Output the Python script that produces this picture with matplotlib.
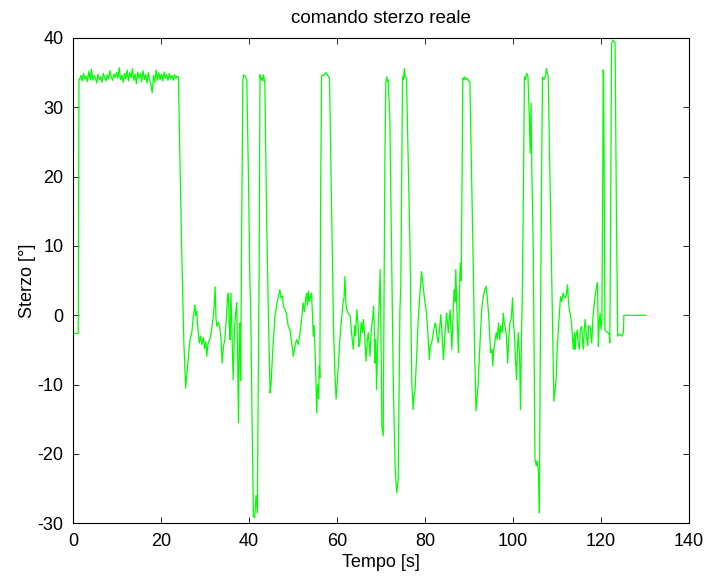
import numpy as np
import matplotlib
matplotlib.use("Agg")
import matplotlib.pyplot as plt

plt.rcParams['font.family'] = ['Liberation Sans', 'DejaVu Sans']
plt.rcParams['axes.unicode_minus'] = False

# --- data ---
# start + plateau
t_plateau = [0.0, 1.2, 1.35, 1.5, 1.8, 2.1, 2.4, 2.7, 3.0, 3.3, 3.6, 3.9, 4.2, 4.5, 4.8,
             5.1, 5.4, 5.7, 6.0, 6.3, 6.6, 6.9, 7.2, 7.5, 7.8, 8.1, 8.4, 8.7, 9.0,
             9.3, 9.6, 9.9, 10.2, 10.5, 10.8, 11.1, 11.4, 11.7, 12.0, 12.3, 12.6,
             12.9, 13.2, 13.5, 13.8, 14.1, 14.4, 14.7, 15.0, 15.3, 15.6, 15.9, 16.2,
             16.5, 16.8, 17.1, 17.4, 17.7, 18.0, 18.3, 18.6, 18.9, 19.2, 19.5, 19.8,
             20.1, 20.4, 20.7, 21.0, 21.3, 21.6, 21.9, 22.2, 22.5, 22.8, 23.1, 23.4,
             23.7, 23.95, 24.7, 25.2]
v_plateau = [-2.6, -2.6, 34.0, 34.0, 34.6, 33.8, 34.9, 34.1, 34.5, 33.7, 35.2, 34.0, 35.5,
             33.9, 34.6, 34.2, 33.5, 34.8, 34.0, 34.4, 33.6, 34.9, 34.3, 33.8, 34.7,
             34.1, 35.3, 34.4, 33.9, 34.8, 34.3, 35.0, 34.2, 35.7, 34.0, 34.6, 33.6,
             34.9, 34.1, 35.4, 33.8, 35.0, 34.3, 35.6, 33.9, 34.8, 33.4, 35.1, 34.2,
             34.9, 33.7, 35.3, 34.0, 34.7, 33.5, 35.0, 34.1, 33.2, 32.1, 34.6, 33.6,
             35.4, 33.9, 35.0, 34.0, 34.8, 33.8, 35.1, 34.2, 34.7, 33.9, 34.9, 34.1,
             34.6, 33.9, 34.7, 34.2, 34.5, 34.3, 9.5, -4.0]

# manoeuvres 25 s - 56 s
t_seg1 = [25.6, 26.0, 26.6, 27.0, 27.3, 27.7, 27.9, 28.1, 28.4, 28.7, 29.0, 29.3, 29.6,
          29.9, 30.2, 30.4, 30.7, 31.1, 31.4, 31.7, 31.9, 32.1, 32.3, 32.5, 32.7, 33.0,
          33.3, 33.6, 33.9, 34.2, 34.5, 34.8, 35.1, 35.3, 35.5, 35.7, 35.9, 36.1, 36.4,
          36.7, 37.0, 37.2, 37.4, 37.6, 37.8, 37.95, 38.1, 38.3, 38.6, 38.8, 39.1, 39.5,
          39.9, 40.2, 40.4, 40.7, 41.0, 41.3, 41.6, 41.9, 42.1, 42.3, 42.5, 42.7, 42.9,
          43.1, 43.3, 43.6, 44.0, 44.4, 44.8, 45.0, 45.4, 45.9, 46.3, 46.7, 47.0, 47.3,
          47.6, 47.8, 48.2, 48.5, 48.9, 49.3, 49.7, 50.1, 50.4, 50.8, 51.2, 51.6, 51.9,
          52.3, 52.6, 52.9, 53.1, 53.3, 53.5, 53.7, 53.9, 54.2, 54.4, 54.6, 54.8, 55.0,
          55.2, 55.4, 55.6, 55.8, 56.0, 56.1]
v_seg1 = [-10.5, -7.5, -3.5, -2.5, -0.5, 1.5, 0.0, 0.6, -2.0, -4.0, -3.0, -4.2, -3.2,
          -4.8, -3.8, -5.9, -4.0, -3.5, -2.5, -1.0, -0.1, 1.5, 4.1, -0.5, -1.6, -1.0,
          -1.6, -3.0, -6.9, -4.5, -3.5, -1.0, 2.5, 3.2, -1.0, -3.5, 3.2, -2.0, -9.3,
          -1.9, 0.5, 1.8, -5.0, -15.5, -3.0, -1.1, -9.4, 9.5, 34.0, 34.7, 34.5, 33.9,
          19.0, 5.0, 0.3, -15.0, -29.0, -29.2, -26.0, -28.5, -10.0, 6.1, 34.7, 34.0, 34.3,
          33.8, 34.7, 33.5, 14.3, 0.0, -11.2, -10.0, -5.0, -0.1, 1.5, 2.8, 3.7, 2.5,
          2.8, 1.3, 0.8, 0.3, -1.5, -2.1, -4.0, -5.9, -4.5, -3.5, -4.2, -2.5, -1.0,
          1.8, 0.5, 2.5, 3.2, 1.5, 3.5, 2.0, 2.5, 3.2, 0.5, -3.0, -1.5, -4.9,
          -9.0, -14.1, -10.0, -12.0, -7.3, -9.0]

# manoeuvres 56 s - 88 s
t_seg2 = [56.3, 56.5, 56.7, 57.0, 57.3, 57.6, 57.9, 58.3, 58.8, 59.2, 59.5, 59.8, 60.3,
          60.7, 61.1, 61.4, 61.6, 61.8, 62.0, 62.2, 62.6, 63.0, 63.3, 63.7, 64.0, 64.2,
          64.5, 64.8, 65.0, 65.2, 65.5, 65.8, 66.0, 66.3, 66.6, 66.9, 67.1, 67.3, 67.5,
          67.8, 68.1, 68.3, 68.5, 68.6, 68.8, 69.0, 69.2, 69.4, 69.6, 69.8, 70.0, 70.2,
          70.5, 70.7, 70.9, 71.1, 71.3, 71.5, 71.6, 72.0, 72.4, 72.8, 73.2, 73.4, 73.6,
          73.75, 73.9, 74.1, 74.3, 74.5, 74.7, 74.9, 75.1, 75.3, 75.5, 75.8, 76.2, 76.6,
          77.0, 77.3, 77.5, 77.7, 78.1, 78.5, 78.9, 79.2, 79.6, 80.0, 80.3, 80.6, 81.0,
          81.2, 81.5, 81.9, 82.1, 82.3, 82.5, 82.7, 83.0, 83.3, 83.6, 83.9, 84.2, 84.5,
          84.9, 85.1, 85.3, 85.5, 85.7, 85.9, 86.1, 86.4, 86.6, 86.8, 87.0, 87.2, 87.3,
          87.6, 87.8, 88.0, 88.2, 88.3]
v_seg2 = [19.0, 34.4, 34.7, 34.6, 34.9, 35.0, 34.6, 34.2, 14.3, -1.6, -8.0, -12.1, -7.3,
          -3.0, -0.1, 2.0, 2.5, 5.6, 2.0, 0.8, 0.2, -0.1, -2.5, -4.9, -1.5, -3.0,
          0.8, -1.5, -4.5, -4.0, -1.0, -2.5, -0.6, -3.0, -6.6, -3.5, -2.5, -4.0, -5.9,
          -2.0, -0.5, 1.3, -2.5, -6.9, -3.5, -10.7, -5.0, -1.1, 2.0, 6.6, -3.0, -16.0,
          -17.4, 3.0, 23.9, 33.5, 34.4, 33.8, 34.0, 28.7, 9.5, -10.0, -21.7, -24.0, -25.6,
          -24.5, -23.7, -12.0, 0.8, 4.2, 20.0, 34.4, 34.0, 35.6, 34.3, 34.2, 22.0, 9.5,
          -9.7, -13.6, -11.5, -11.2, -6.0, -0.1, 3.5, 6.3, 4.0, 1.8, 0.5, -2.0, -6.4,
          -4.5, -4.0, -2.5, -1.8, -1.1, -1.5, -3.0, -4.0, -2.0, 0.1, -3.0, -6.4, -3.0,
          0.3, -1.0, -2.5, -0.5, 0.8, -2.0, -4.9, 0.5, 3.7, 2.0, 6.6, 2.0, -0.5,
          -5.4, 2.0, 7.5, 5.0, 10.4]

# manoeuvres 88 s - 130 s
t_seg3 = [88.6, 88.8, 89.0, 89.3, 89.6, 89.8, 90.2, 90.6, 91.0, 91.3, 91.6, 92.1, 92.5,
          92.9, 93.2, 93.5, 93.9, 94.1, 94.4, 94.7, 94.9, 95.2, 95.4, 95.6, 95.9, 96.2,
          96.4, 96.7, 97.0, 97.2, 97.5, 97.8, 98.0, 98.2, 98.5, 98.8, 99.0, 99.3, 99.6,
          99.9, 100.1, 100.3, 100.5, 100.8, 101.0, 101.2, 101.5, 101.7, 101.9, 102.1,
          102.4, 102.6, 102.8, 103.1, 103.4, 103.7, 103.9, 104.1, 104.3, 104.6, 104.8,
          105.0, 105.3, 105.5, 105.8, 106.0, 106.15, 106.3, 106.5, 106.7, 107.0, 107.2,
          107.4, 107.6, 108.0, 108.4, 108.8, 109.1, 109.3, 109.6, 109.8, 110.0, 110.3,
          110.8, 111.1, 111.4, 111.8, 112.1, 112.4, 112.6, 112.8, 113.0, 113.3, 113.7,
          114.0, 114.1, 114.3, 114.6, 114.8, 115.1, 115.3, 115.6, 115.8, 116.0, 116.2,
          116.4, 116.7, 117.0, 117.2, 117.5, 117.9, 118.1, 118.4, 118.7, 119.0, 119.2,
          119.4, 119.6, 119.8, 120.0, 120.2, 120.4, 120.5, 120.6, 120.8, 120.9, 121.3,
          121.6, 121.9, 122.0, 122.2, 122.4, 122.7, 123.0, 123.2, 123.5, 123.8, 124.2,
          124.7, 125.1, 125.2, 130.2]
v_seg3 = [34.2, 34.0, 34.4, 34.0, 34.2, 33.9, 33.7, 20.0, 6.0, -6.0, -13.8, -9.7, -4.0,
          1.0, 2.5, 3.5, 4.2, 3.0, 0.6, -2.5, -5.4, -4.9, -7.3, -5.0, -3.8, -2.5,
          -3.5, -1.1, -3.5, -1.5, -2.5, 0.3, -1.0, -1.6, -3.0, -6.9, -3.5, -1.1, -0.5,
          2.5, -1.0, -2.5, -5.4, -9.3, -5.0, -2.5, -6.0, -13.6, -4.0, 2.3,
          20.0, 34.4, 34.0, 34.9, 34.4, 28.7, 23.4, 30.6, 20.0, 9.5, -5.0,
          -20.8, -21.7, -21.0, -22.7, -28.5, -10.0, 3.2, 20.0, 34.4, 34.0, 34.2,
          34.5, 35.6, 34.4, 20.0, 4.7, -6.0, -12.4, -10.5, -9.3, -5.5, -2.1,
          2.7, 2.0, 3.2, 2.5, 3.0, 4.4, 2.0, 0.8, 0.3, -1.1, -4.9,
          -2.5, -4.9, -3.0, -2.1, -4.0, -4.9, -2.1, -1.6, -3.5, -4.9, -2.0,
          -0.6, -3.0, -4.4, -1.5, -1.6, -4.0, -1.0, 1.3, 3.0, 4.2, 4.7,
          -4.5, -1.0, 0.3, -2.0, -1.0, 20.0, 35.4, 34.5, 10.0, -2.1, -2.4,
          -2.5, -2.8, -4.0, 15.0, 39.2, 39.7, 39.5, 39.2, 15.0, -3.0, -2.7,
          -3.0, -2.5, 0.0, 0.0]

time_s = np.concatenate([t_plateau, t_seg1, t_seg2, t_seg3])
steer_deg = np.concatenate([v_plateau, v_seg1, v_seg2, v_seg3])

x_ticks = [0, 20, 40, 60, 80, 100, 120, 140]
y_ticks = [-30, -20, -10, 0, 10, 20, 30, 40]

fig = plt.figure(figsize=(7.09, 5.81), dpi=100)
ax = fig.add_axes([73 / 709, 1 - 523.3 / 581, (689 - 73) / 709, (523.3 - 38) / 581])
ax.plot(time_s, steer_deg, color='#00ff00', linewidth=0.9)
ax.set_xlim(0, 140)
ax.set_ylim(-30, 40)
ax.set_xticks(x_ticks)
ax.set_yticks(y_ticks)
ax.tick_params(direction='in', length=4, width=0.6, top=True, right=True,
               labelsize=13, pad=7)
for s in ax.spines.values():
    s.set_linewidth(0.8)
ax.set_title('comando sterzo reale', fontsize=13.5, pad=11)
ax.set_xlabel('Tempo [s]', fontsize=13, labelpad=3)
ax.set_ylabel('Sterzo [°]', fontsize=13, labelpad=1)
fig.savefig('out.png', dpi=100)
